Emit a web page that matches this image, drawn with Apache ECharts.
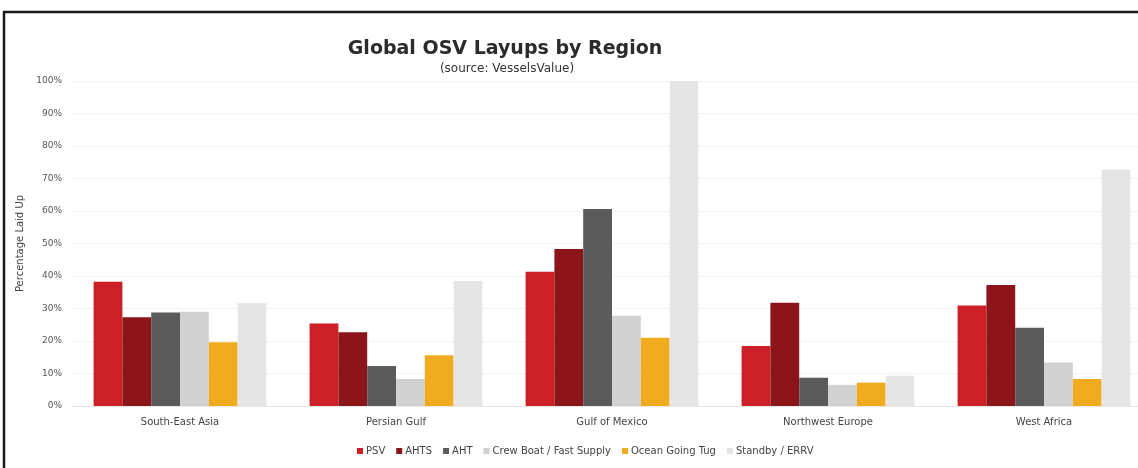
<!DOCTYPE html>
<html>
<head>
<meta charset="utf-8">
<script src="https://cdn.jsdelivr.net/npm/echarts@6/dist/echarts.min.js"></script>
<style>
  html, body { margin: 0; padding: 0; background: #fff; }
  #chart { width: 1138px; height: 468px; }
</style>
</head>
<body>
<div id="chart"></div>
<script>
// Regions along the x axis
const regions = ['South-East Asia', 'Persian Gulf', 'Gulf of Mexico', 'Northwest Europe', 'West Africa'];

// Share of each vessel class laid up, per region (%)
const psv      = [38.2, 25.4, 41.3, 18.5, 30.9];
const ahts     = [27.3, 22.7, 48.3, 31.8, 37.2];
const aht      = [28.8, 12.3, 60.6, 8.7, 24.1];
const crewBoat = [29.0, 8.3, 27.8, 6.5, 13.4];
const tug      = [19.6, 15.6, 21.0, 7.2, 8.3];
const standby  = [31.6, 38.5, 100.0, 9.3, 72.8];

const seriesNames = ['PSV', 'AHTS', 'AHT', 'Crew Boat / Fast Supply', 'Ocean Going Tug', 'Standby / ERRV'];
const seriesData = [psv, ahts, aht, crewBoat, tug, standby];
const seriesColors = ['#cc1f27', '#8b1519', '#5b5b5b', '#d1d1d1', '#f0ab1f', '#e5e5e5'];

const FONT = '"DejaVu Sans", Verdana, sans-serif';

const chart = echarts.init(document.getElementById('chart'), null, { renderer: 'canvas' });

chart.setOption({
  backgroundColor: '#ffffff',
  animation: false,
  textStyle: { fontFamily: FONT },
  graphic: [{
    type: 'rect',
    shape: { x: 4, y: 12, width: 1200, height: 500 },
    style: { fill: 'none', stroke: '#1a1a1a', lineWidth: 2.5 },
    z: 100
  }],
  title: [{
    text: 'Global OSV Layups by Region',
    left: 500, top: 35, textAlign: 'center',
    textStyle: { fontSize: 19, fontWeight: 'bold', color: '#2b2b2b', fontFamily: FONT }
  }, {
    text: '(source: VesselsValue)',
    left: 502, top: 58, textAlign: 'center',
    textStyle: { fontSize: 12, fontWeight: 'normal', color: '#333', fontFamily: FONT }
  }],
  legend: {
    data: seriesNames,
    left: 352, top: 441,
    itemWidth: 6, itemHeight: 6, itemGap: 11,
    icon: 'rect',
    textStyle: { fontSize: 10, color: '#444', fontFamily: FONT, padding: [0, 0, 0, -2] }
  },
  grid: { left: 72, top: 81, width: 1080, bottom: 62, outerBoundsMode: 'none', containLabel: false },
  xAxis: {
    type: 'category',
    data: regions,
    axisLine: { lineStyle: { color: '#e6e6e6' } },
    axisTick: { show: false },
    axisLabel: { fontSize: 10, color: '#444', margin: 11, fontFamily: FONT }
  },
  yAxis: {
    type: 'value',
    min: 0, max: 100, interval: 10,
    name: 'Percentage Laid Up',
    nameLocation: 'middle',
    nameGap: 47,
    nameTextStyle: { fontSize: 10, color: '#444', fontFamily: FONT },
    axisLabel: { formatter: '{value}%', fontSize: 9, color: '#555', margin: 10, fontFamily: FONT },
    axisLine: { show: false },
    axisTick: { show: false },
    splitLine: { lineStyle: { color: '#f2f2f2' } }
  },
  series: seriesNames.map((name, i) => ({
    name,
    type: 'bar',
    data: seriesData[i],
    barGap: '0%',
    barCategoryGap: '20%',
    itemStyle: { color: seriesColors[i] }
  }))
});
</script>
</body>
</html>
